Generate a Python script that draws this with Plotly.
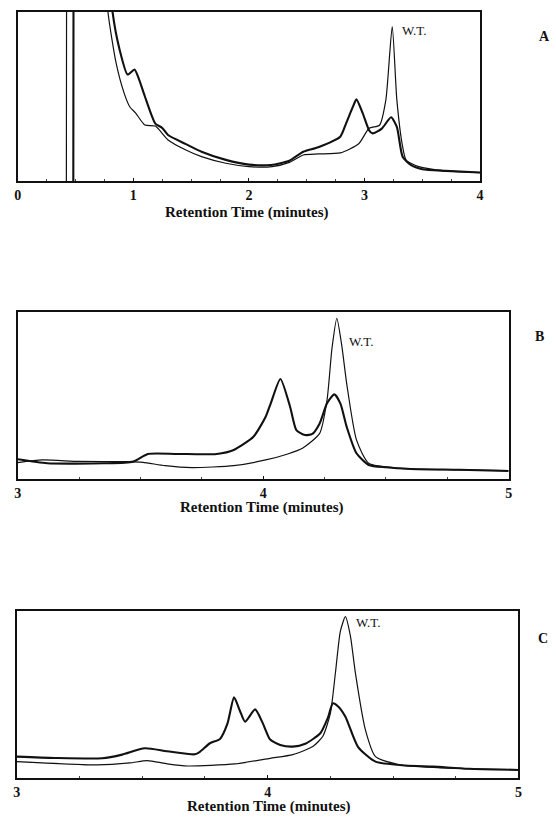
import plotly.graph_objects as go

W, H = 556, 823

# ---- Panel A data ----
a_mut_x = [0.0, 0.48, 0.485, 0.6, 0.7, 0.75, 0.82, 0.88, 0.95, 1.01, 1.05, 1.10, 1.19, 1.25, 1.30, 1.45, 1.59, 1.8, 2.0, 2.19,
           2.35, 2.47, 2.6, 2.79, 2.84, 2.90, 2.93, 2.985, 3.04, 3.07, 3.15, 3.23, 3.28, 3.33, 3.4, 3.5, 3.7, 4.0]
a_mut_y = [-20, -20, 300, 300, 250, 160, 100, 78, 63, 66, 60, 50, 34, 31.4, 27.2, 22, 17.3, 12.5, 9.7, 9.5,
           12, 17.3, 20, 26.2, 34, 44, 48.3, 40, 30, 28.2, 31, 37.7, 32, 14.4, 9.5, 7, 6, 5]
a_wt_x = [0.0, 0.42, 0.425, 0.6, 0.7, 0.74, 0.78, 0.85, 0.92, 0.97, 1.02, 1.10, 1.19, 1.30, 1.45, 1.59, 1.8, 2.0, 2.2,
          2.35, 2.47, 2.6, 2.79, 2.95, 3.04, 3.13, 3.185, 3.24, 3.28, 3.33, 3.36, 3.47, 3.7, 4.0]
a_wt_y = [-20, -20, 300, 300, 200, 140, 100, 70, 52, 43.8, 40.2, 33.1, 32.5, 24.3, 18.5, 14.4, 10.5, 8.5, 8.5,
          11, 15.4, 16, 16.6, 22, 31.2, 33, 48, 91.3, 48, 20.3, 12.4, 8.5, 6, 4.9]

# ---- Panel B data ----
b_mut_x = [3.0, 3.12, 3.35, 3.47, 3.53, 3.65, 3.81, 3.88, 3.96, 4.01, 4.03, 4.07, 4.11, 4.135, 4.17, 4.20, 4.23, 4.26,
           4.29, 4.315, 4.34, 4.38, 4.43, 4.5, 4.6, 4.8, 5.0]
b_mut_y = [11.8, 9.4, 9.4, 10.4, 15, 15, 15, 17.4, 25.3, 37.3, 45, 59.9, 43, 29.3, 26.3, 27, 33.3, 45.3,
           50.7, 45, 31.3, 15.4, 8.4, 7, 6, 5.5, 4.8]
b_wt_x = [3.0, 3.10, 3.25, 3.45, 3.51, 3.6, 3.71, 3.88, 4.01, 4.1, 4.16, 4.23, 4.26, 4.28, 4.30, 4.32, 4.34, 4.38,
          4.43, 4.56, 4.8, 5.0]
b_wt_y = [9.8, 11.4, 10.5, 10.4, 10, 8, 6.8, 8.0, 11.4, 15, 18.4, 27.3, 47.3, 78, 96.2, 80, 57.3, 23.4,
          9.4, 6.4, 5.5, 5.0]

# ---- Panel C data ----
c_mut_x = [3.0, 3.15, 3.34, 3.42, 3.51, 3.6, 3.71, 3.73, 3.77, 3.81, 3.84, 3.866, 3.89, 3.91, 3.95, 3.98, 4.01, 4.05,
           4.10, 4.15, 4.21, 4.24, 4.26, 4.28, 4.31, 4.36, 4.43, 4.55, 4.66, 4.8, 5.0]
c_mut_y = [12.8, 12, 11.8, 14, 17.8, 16, 14.2, 15.7, 20.8, 23.4, 32.7, 48.3, 40, 33.7, 41.1, 33, 23, 19.8,
           18.8, 20.5, 26.8, 36, 44.7, 43, 36.7, 18.7, 9.8, 7.5, 6.8, 5.5, 4.8]
c_wt_x = [3.0, 3.32, 3.45, 3.52, 3.6, 3.68, 3.87, 4.01, 4.1, 4.18, 4.22, 4.25, 4.27, 4.29, 4.31, 4.33, 4.35, 4.39,
          4.43, 4.53, 4.7, 5.0]
c_wt_y = [9.8, 7.8, 9, 10.4, 8.5, 7.2, 8.4, 11.8, 14, 18.8, 25, 38.7, 62.7, 88, 96.6, 85, 62.7, 28.7,
          12.8, 7.8, 6, 5]

panels = [
    dict(mut=(a_mut_x, a_mut_y), wt=(a_wt_x, a_wt_y), xr=[0, 4], ticks=[0, 1, 2, 3, 4], nlin=4,
         box=(14, 483, 12, 181), title=(247, 212), wt_lbl=(402, 30), letter="A", let_pos=(548, 36)),
    dict(mut=(b_mut_x, b_mut_y), wt=(b_wt_x, b_wt_y), xr=[3, 5], ticks=[3, 4, 5], nlin=0,
         box=(14, 512, 312, 479), title=(262, 507), wt_lbl=(348, 342), letter="B", let_pos=(543, 337)),
    dict(mut=(c_mut_x, c_mut_y), wt=(c_wt_x, c_wt_y), xr=[3, 5], ticks=[3, 4, 5], nlin=0,
         box=(13, 522, 611, 778), title=(269, 806), wt_lbl=(355, 622), letter="C", let_pos=(547, 638)),
]

fig = go.Figure()
serif = "Liberation Serif"
ink = "#111111"
annotations = []
layout = {}
for i, p in enumerate(panels, start=1):
    sfx = "" if i == 1 else str(i)
    x0, x1, y0, y1 = p["box"]
    xd = [x0 / W, x1 / W]
    yd = [1 - y1 / H, 1 - y0 / H]
    n = p["nlin"]
    for key, lw in (("wt", 1.2), ("mut", 2.1)):
        xs, ys = p[key]
        if n:
            # sharp solvent-front spike drawn with straight segments
            fig.add_trace(go.Scatter(x=xs[:n], y=ys[:n], mode="lines", xaxis="x" + sfx, yaxis="y" + sfx,
                                     line=dict(color=ink, width=lw), showlegend=False, hoverinfo="skip"))
        fig.add_trace(go.Scatter(x=xs[max(n - 1, 0):], y=ys[max(n - 1, 0):], mode="lines",
                                 xaxis="x" + sfx, yaxis="y" + sfx,
                                 line=dict(color=ink, width=lw, shape="spline", smoothing=0.6),
                                 showlegend=False, hoverinfo="skip"))
    layout["xaxis" + sfx] = dict(domain=xd, range=p["xr"], anchor="y" + sfx, tickvals=p["ticks"],
                                 showline=True, mirror=True, linecolor=ink, linewidth=1.6,
                                 showgrid=False, zeroline=False, ticks="inside", ticklen=3,
                                 tickcolor=ink,
                                 minor=dict(dtick=0.25, ticks="inside", ticklen=2, tickcolor="#444444"),
                                 tickfont=dict(family=serif, size=14, color=ink, weight="bold"))
    layout["yaxis" + sfx] = dict(domain=yd, range=[0, 100], anchor="x" + sfx, showline=True, mirror=True,
                                 linecolor=ink, linewidth=1.6, showgrid=False, zeroline=False,
                                 showticklabels=False, ticks="")
    tx, ty = p["title"]
    annotations.append(dict(text="<b>Retention Time (minutes)</b>", x=tx / W, y=1 - ty / H, xref="paper",
                            yref="paper", showarrow=False, xanchor="center", yanchor="middle",
                            font=dict(family=serif, size=15, color=ink)))
    wx, wy = p["wt_lbl"]
    annotations.append(dict(text="W.T.", x=wx / W, y=1 - wy / H, xref="paper", yref="paper", showarrow=False,
                            xanchor="left", yanchor="middle", font=dict(family=serif, size=13, color=ink)))
    lx, ly = p["let_pos"]
    annotations.append(dict(text="<b>" + p["letter"] + "</b>", x=lx / W, y=1 - ly / H, xref="paper",
                            yref="paper", showarrow=False, xanchor="center", yanchor="middle",
                            font=dict(family=serif, size=14, color=ink)))

fig.update_layout(width=W, height=H, margin=dict(l=0, r=0, t=0, b=0), paper_bgcolor="white",
                  plot_bgcolor="white", annotations=annotations, **layout)
fig.write_html("out.html")
